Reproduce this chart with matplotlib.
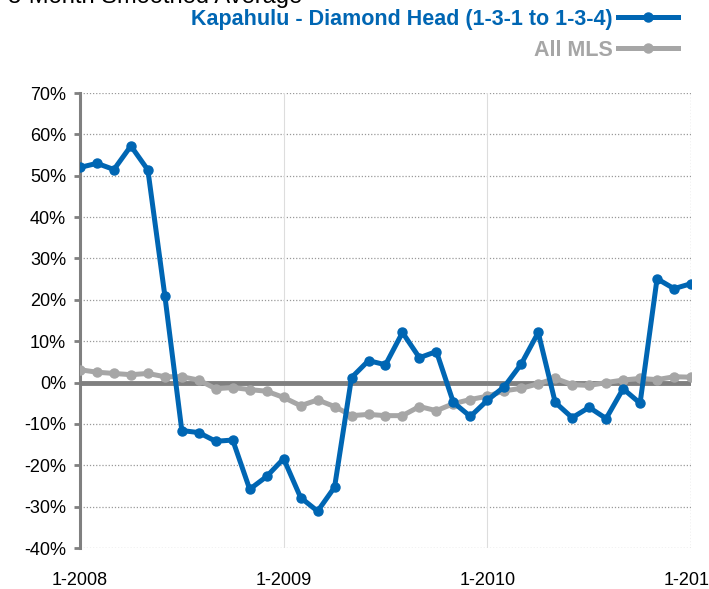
import numpy as np
import matplotlib
matplotlib.use('Agg')
import matplotlib.pyplot as plt
from matplotlib.ticker import FuncFormatter

plt.rcParams['font.family'] = ['Liberation Sans', 'DejaVu Sans']

# monthly points, Jan 2008 .. Jan 2011
months = np.arange(37)
kapahulu = [52, 53, 51.5, 57.2, 51.4, 21, -11.6, -12.1, -14.2, -13.9, -25.8, -22.7, -18.4,
            -27.8, -31.1, -25.3, 1.2, 5.3, 4.3, 12.1, 6, 7.5, -4.8, -8.2, -4.3,
            -1, 4.5, 12.1, -4.8, -8.5, -6, -8.7, -1.5, -5, 25.1, 22.7, 23.9]
all_mls = [3.1, 2.5, 2.2, 1.9, 2.2, 1.4, 1.4, 0.6, -1.5, -1.2, -1.7, -2.1, -3.6,
           -5.6, -4.2, -5.8, -8, -7.7, -8, -8, -5.8, -6.8, -5.1, -4.1, -3.3,
           -2, -1.4, -0.3, 1, -0.5, -0.7, 0, 0.6, 1, 0.7, 1.4, 1.3]
xtick_pos = [0, 12, 24, 36]
xtick_labels = ['1-2008', '1-2009', '1-2010', '1-2011']

blue = '#0066B3'
grey = '#A6A6A6'

fig = plt.figure(figsize=(7.09, 5.89), dpi=100)
ax = fig.add_axes([0.1128, 0.0696, 0.8618, 0.7725])

# grid
for y in range(-40, 71, 10):
    ax.axhline(y, color='#999999', linestyle=(0, (1, 1.5)), linewidth=0.9, zorder=1)
for x in [12, 24]:
    ax.axvline(x, color='#DDDDDD', linewidth=0.8, zorder=1)
ax.axvline(36, color='#999999', linestyle=(0, (1, 1.5)), linewidth=0.9, zorder=1)
ax.axhline(0, color='#808080', linewidth=3.5, zorder=2)

ax.plot(months, all_mls, color=grey, linewidth=3.6, marker='o', markersize=6.5,
        label='All MLS', zorder=3)
ax.plot(months, kapahulu, color=blue, linewidth=3.6, marker='o', markersize=6.5,
        label='Kapahulu - Diamond Head (1-3-1 to 1-3-4)', zorder=4)

ax.set_xlim(0, 36)
ax.set_ylim(-40, 70)
ax.set_yticks(range(-40, 71, 10))
ax.yaxis.set_major_formatter(FuncFormatter(lambda v, p: '%d%%' % v))
ax.set_xticks(xtick_pos)
ax.set_xticklabels(xtick_labels)

for s in ['top', 'right', 'bottom']:
    ax.spines[s].set_visible(False)
ax.spines['left'].set_color('#808080')
ax.spines['left'].set_linewidth(2.2)
ax.tick_params(axis='y', length=4, width=2, color='#808080', labelsize=13, pad=6)
ax.tick_params(axis='x', length=0, labelsize=13, pad=17)

handles, labels = ax.get_legend_handles_labels()
leg = ax.legend(handles[::-1], labels[::-1], loc='upper right',
                bbox_to_anchor=(678 / 709, 1 - 9 / 589), bbox_transform=fig.transFigure,
                markerfirst=False, frameon=False, labelcolor='linecolor',
                prop={'weight': 'bold', 'size': 15.5}, handlelength=2.8,
                handletextpad=0.25, labelspacing=0.45, borderpad=0, borderaxespad=0)

fig.text(8 / 709, 1 - 3 / 589, '3-Month Smoothed Average', fontsize=17, va='baseline')

fig.savefig('out.png', dpi=100)
